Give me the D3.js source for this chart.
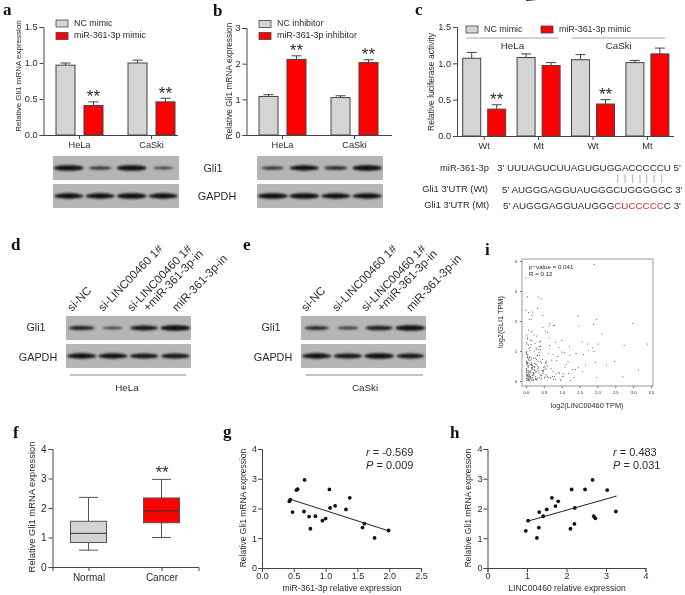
<!DOCTYPE html>
<html>
<head>
<meta charset="utf-8">
<script src="https://cdn.jsdelivr.net/npm/d3@7"></script>
<style>
html, body { margin: 0; padding: 0; background: #fff; }
svg { display: block; font-family: "Liberation Sans", Arial, sans-serif; filter: blur(0.3px); }
svg text { fill: #2b2b2b; }
.panel-letter { font-family: "Liberation Serif", serif; font-weight: bold; font-size: 17px; fill: #111; }
</style>
</head>
<body>
<svg id="chart" width="685" height="595"></svg>
<script>
// panel a
const aGroups = ["HeLa", "CaSki"]
const aSeries = ["NC mimic", "miR-361-3p mimic"]
const aValues = [[0.97, 0.41], [1.0, 0.46]]
const aErrors = [[0.03, 0.05], [0.04, 0.05]]

// panel b
const bGroups = ["HeLa", "CaSki"]
const bSeries = ["NC inhibitor", "miR-361-3p inhibitor"]
const bValues = [[1.08, 2.12], [1.05, 2.03]]
const bErrors = [[0.05, 0.1], [0.05, 0.08]]

// panel c
const cGroups = ["HeLa Wt", "HeLa Mt", "CaSki Wt", "CaSki Mt"]
const cSeries = ["NC mimic", "miR-361-3p mimic"]
const cValues = [[1.07, 0.37], [1.08, 0.97], [1.05, 0.44], [1.01, 1.13]]
const cErrors = [[0.08, 0.06], [0.05, 0.04], [0.07, 0.06], [0.03, 0.08]]

// blots: band strength per lane
const blotAGli1 = [1, 0.55, 1, 0.42]
const blotAGapdh = [0.95, 0.95, 1, 0.95]
const blotBGli1 = [0.55, 0.95, 0.6, 1]
const blotBGapdh = [1, 1, 0.95, 0.95]
const blotDGli1 = [0.75, 0.4, 0.85, 1]
const blotDGapdh = [0.95, 0.95, 0.9, 0.9]
const blotEGli1 = [0.65, 0.45, 0.8, 1]
const blotEGapdh = [0.95, 0.9, 1, 0.85]
const blotLanes = ["1", "2", "3", "4"]
const deLabels = ["si-NC", "si-LINC00460 1#", "si-LINC00460 1#", "+miR-361-3p-in", "miR-361-3p-in"]

// panel f
const fGroups = ["Normal", "Cancer"]
const fLow = [0.57, 1.0]
const fQ1 = [0.83, 1.5]
const fMedian = [1.14, 1.9]
const fQ3 = [1.55, 2.34]
const fHigh = [2.36, 2.97]

// panel g
const gX = [0.43, 0.445, 0.48, 0.54, 0.56, 0.67, 0.66, 0.74, 0.76, 0.84, 0.95, 1.0, 1.06, 1.07, 1.15, 1.32, 1.38, 1.58, 1.61, 1.77, 1.99]
const gY = [2.24, 2.3, 1.88, 2.62, 2.65, 2.96, 1.9, 1.73, 1.32, 1.74, 1.59, 1.66, 2.64, 2.02, 2.09, 1.97, 2.36, 1.36, 1.49, 1.01, 1.26]
const gLineX = [0.43, 1.99]
const gLineY = [2.32, 1.25]

// panel h
const hX = [0.97, 1.03, 1.25, 1.3, 1.31, 1.41, 1.5, 1.63, 1.72, 1.79, 2.1, 2.13, 2.2, 2.21, 2.47, 2.66, 2.69, 2.73, 3.03, 3.25]
const hY = [1.25, 1.59, 1.01, 1.36, 1.88, 1.74, 1.97, 2.36, 2.08, 2.24, 1.32, 2.64, 1.48, 2.02, 2.64, 2.96, 1.74, 1.67, 2.62, 1.9]
const hLineX = [0.98, 3.27]
const hLineY = [1.56, 2.42]

// panel i, sparse points
const iX = [1.91, 0, 0.04, 0.35, 0.42, 0.32, 0, 0.07, 0.19, 0.17, 0.47, 0.09, 0.15, 1.45, 1.98, 2.99, 1.89, 1.48, 0.67, 0.65, 0.77, 0.81, 0.47, 0.54, 0.6, 2.13, 0.07, 0.16, 0.02, 0.22, 0.3, 1.57, 1.72, 2.02, 2.75, 3.4, 1.0, 0.82, 1.22, 1.86, 1.76, 1.9, 1.61, 1.4, 1.07, 1.23, 2.48, 2.25, 1.94, 1.67, 1.47, 1.38, 1.59, 1.98, 1.35, 2.71, 3.15, 1.19, 0.91, 1.02,
  // lower left cloud
  0.01, 0.03, 0.02, 0.05, 0.01, 0.08, 0.04, 0.02, 0.06, 0.1, 0.03, 0.12, 0.07, 0.01, 0.14, 0.09, 0.05, 0.16, 0.02, 0.11, 0.18, 0.06, 0.13, 0.03, 0.2, 0.08, 0.15, 0.04, 0.23, 0.1, 0.17, 0.01, 0.26, 0.12, 0.07, 0.21, 0.02, 0.29, 0.14, 0.05, 0.19, 0.32, 0.09, 0.24, 0.03, 0.35, 0.16, 0.11, 0.27, 0.06, 0.38, 0.18, 0.01, 0.3, 0.13, 0.41, 0.08, 0.22, 0.33, 0.04, 0.44, 0.15, 0.25, 0.1, 0.36, 0.47, 0.02, 0.2, 0.28, 0.5, 0.07, 0.39, 0.17, 0.53, 0.12, 0.31, 0.03, 0.56, 0.42, 0.23, 0.06, 0.6, 0.34, 0.14, 0.45, 0.64, 0.09, 0.26, 0.01, 0.68, 0.37, 0.19, 0.48, 0.72, 0.04, 0.29, 0.76, 0.11, 0.51, 0.4, 0.8, 0.21, 0.02, 0.84, 0.55, 0.32, 0.88, 0.07, 0.43, 0.92, 0.16, 0.58, 0.96, 0.24, 1.0, 0.35, 0.62, 0.05, 1.04, 0.46, 0.13, 1.09, 0.28, 0.66, 1.13, 0.01, 0.38, 1.18, 0.52, 0.7, 0.2, 1.24, 0.08, 0.74, 1.3, 0.41, 0.56, 0.03, 0.78, 0.18, 0.49, 0.86, 0.1, 0.3, 0.94, 0.6, 0.06, 0.44, 1.06, 0.25, 0.02, 0.69, 0.36, 0.15, 0.82, 0.54, 0.04, 0.27, 0.98, 0.47, 0.12, 0.33, 0.65, 0.08, 0.22, 0.4, 0.01, 0.58, 0.17, 0.3, 0.05, 0.75, 0.11, 0.26, 0.03, 0.5, 0.19, 0.07, 0.34, 0.14, 0.02, 0.24, 0.09, 0.42, 0.05, 0.16, 0.01, 0.28, 0.12, 0.04, 0.21, 0.08, 0.37, 0.02, 0.13, 0.06, 0.18, 0.1, 0.03, 0.25, 0.07, 0.01, 0.15, 0.05, 0.11, 0.02, 0.2, 0.04, 0.09, 0.01, 0.13, 0.06, 0.03, 0.17, 0.08, 0.02, 0.05, 0.1, 0.01, 0.04]
const iY = [3.88, 3.43, 2.81, 2.8, 2.73, 2.42, 2.36, 2.28, 2.3, 2.19, 2.19, 2.06, 2.06, 2.17, 2.06, 1.92, 1.88, 1.83, 1.92, 1.84, 1.86, 1.85, 1.78, 1.67, 1.62, 1.57, 1.7, 1.64, 1.53, 1.53, 1.5, 1.31, 1.23, 1.23, 1.19, 1.23, 1.36, 1.29, 1.14, 1.11, 1.03, 0.98, 0.89, 0.92, 0.95, 0.86, 0.66, 0.53, 0.62, 0.53, 0.44, 0.39, 0.31, 0.12, 0.12, 0.14, 0.37, 0.25, 0.29, 0.14,
  0.42, 1.23, 0.08, 0.62, 0.95, 0.21, 1.4, 0.33, 0.05, 0.78, 0.15, 1.12, 0.5, 1.28, 0.27, 0.01, 0.88, 0.44, 0.59, 1.02, 0.12, 0.36, 0.7, 1.47, 0.18, 1.08, 0.03, 0.83, 0.48, 0.3, 1.35, 0.66, 0.09, 0.56, 1.2, 0.24, 0.98, 0.72, 0.11, 1.42, 0.38, 0.86, 0.02, 0.46, 0.19, 1.05, 0.6, 0.29, 0.14, 0.76, 1.3, 0.52, 0.91, 0.06, 0.34, 1.16, 0.68, 0.23, 0.41, 0.8, 0.1, 0.55, 1.26, 0.17, 0.95, 0.31, 0.63, 0.04, 1.1, 0.39, 0.73, 0.22, 0.5, 0.13, 1.37, 0.84, 0.28, 0.58, 0.07, 1.0, 0.45, 0.16, 0.66, 1.22, 0.35, 0.92, 0.2, 0.77, 0.54, 0.11, 1.15, 0.43, 0.26, 0.7, 0.6, 0.03, 0.88, 0.33, 0.49, 1.04, 0.15, 0.75, 0.4, 0.24, 0.62, 0.09, 0.82, 0.3, 0.18, 1.12, 0.52, 0.67, 0.05, 0.36, 0.97, 0.44, 0.12, 0.58, 0.25, 0.72, 0.08, 0.47, 0.32, 1.18, 0.56, 0.19, 0.86, 0.64, 0.1, 0.41, 0.28, 0.02, 0.53, 0.15, 0.38, 1.33, 0.21, 0.79, 0.06, 0.46, 0.34, 0.69, 0.13, 1.07, 0.26, 0.5, 0.04, 0.61, 0.17, 0.37, 0.9, 0.11, 0.29, 0.74, 0.07, 0.43, 0.2, 0.57, 0.01, 0.33, 0.15, 0.48, 1.44, 0.09, 0.24, 0.65, 0.03, 0.39, 0.18, 0.55, 0.12, 0.31, 0.81, 0.06, 0.22, 0.45, 0.02, 0.14, 0.36, 0.1, 0.27, 0.59, 0.05, 0.19, 0.01, 0.41, 0.08, 0.3, 0.16, 0.51, 0.04, 0.23, 0.12, 0.35]
const iXTicks = [0, 0.5, 1, 1.5, 2, 2.5, 3, 3.5]
const iYTicks = [0, 1, 2, 3, 4]

const svg = d3.select("#chart")
const barGray = "#d4d4d4"
const barRed = "#ff0000"
const axisColor = "#444"

svg.append("defs").append("filter")
	.attr("id", "bandBlur")
	.attr("x", "-20%").attr("y", "-100%").attr("width", "140%").attr("height", "300%")
	.append("feGaussianBlur").attr("stdDeviation", 0.9)

svg.append("defs").append("filter")
	.attr("id", "soft")
	.append("feGaussianBlur").attr("stdDeviation", 0.3)

// Panel letters
const panelLetters = [["a", 3, 15], ["b", 213, 16], ["c", 415, 15], ["d", 11, 250], ["e", 243, 250], ["f", 13, 438], ["g", 223, 437], ["h", 450, 438], ["i", 485, 255]]
svg.selectAll(".panel-letter").data(panelLetters).join("text")
	.attr("class", "panel-letter")
	.attr("x", (d) => d[1])
	.attr("y", (d) => d[2])
	.text((d) => d[0])

function styleAxis(g, size) {
	g.selectAll("path, line").attr("stroke", axisColor).attr("stroke-width", 1)
	g.selectAll("text").style("font-size", size + "px").attr("fill", "#2b2b2b")
	g.attr("font-family", null)
}

function drawBarPanel(cfg) {
	const g = svg.append("g").attr("class", cfg.name)
	const y = d3.scaleLinear().domain(cfg.yDomain).range([cfg.y0, cfg.y1])
	const x = d3.scaleBand().domain(cfg.groups).range([cfg.x0, cfg.x1])
	const inner = d3.scaleBand().domain(cfg.series)
		.range([-cfg.span / 2, cfg.span / 2]).paddingInner(cfg.pad)
	const center = (grp) => x(grp) + x.bandwidth() / 2

	cfg.groups.forEach((grp, i) => {
		cfg.series.forEach((s, j) => {
			const val = cfg.values[i][j]
			const err = cfg.errors[i][j]
			const left = center(grp) + inner(s)
			const mid = left + inner.bandwidth() / 2
			// error bar first so the bar covers its lower end
			g.append("line").attr("x1", mid).attr("x2", mid)
				.attr("y1", y(val)).attr("y2", y(val + err))
				.attr("stroke", "#444").attr("stroke-width", 1)
			g.append("line").attr("x1", mid - 5).attr("x2", mid + 5)
				.attr("y1", y(val + err)).attr("y2", y(val + err))
				.attr("stroke", "#444").attr("stroke-width", 1)
			g.append("rect").attr("x", left).attr("y", y(val))
				.attr("width", inner.bandwidth()).attr("height", y(0) - y(val))
				.attr("fill", j === 0 ? barGray : barRed)
				.attr("stroke", "#444").attr("stroke-width", 1)
		})
	})

	const yAxis = g.append("g").attr("transform", `translate(${cfg.x0},0)`)
		.call(d3.axisLeft(y).tickValues(cfg.yTicks).tickFormat(cfg.yFormat).tickSize(4).tickPadding(2))
	styleAxis(yAxis, 9.2)

	const xAxis = g.append("g").attr("transform", `translate(0,${cfg.y0})`)
		.call(d3.axisBottom(x).tickFormat(cfg.xFormat || ((d) => d)).tickSize(4).tickPadding(2))
	xAxis.select(".domain").attr("d", `M${cfg.x0},0.5H${cfg.axisEnd}`)
	styleAxis(xAxis, 9.2)

	g.append("text")
		.attr("transform", `translate(${cfg.labelX},${cfg.labelY}) rotate(-90)`)
		.attr("text-anchor", "middle").attr("dominant-baseline", "middle")
		.style("font-size", cfg.labelSize + "px")
		.text(cfg.label)

	// legend
	cfg.series.forEach((s, j) => {
		const lx = cfg.legendX[j]
		const ly = cfg.legendY[j]
		g.append("rect").attr("x", lx).attr("y", ly - 3.5).attr("width", 12).attr("height", 7)
			.attr("fill", j === 0 ? barGray : barRed).attr("stroke", "#444").attr("stroke-width", 0.8)
		g.append("text").attr("x", lx + 18).attr("y", ly)
			.attr("dominant-baseline", "middle").style("font-size", "8.9px").text(s)
	})

	// significance stars
	cfg.stars.forEach((st) => {
		const left = center(cfg.groups[st[0]]) + inner(cfg.series[st[1]])
		const val = cfg.values[st[0]][st[1]] + cfg.errors[st[0]][st[1]]
		g.append("text").attr("x", left + inner.bandwidth() / 2)
			.attr("y", y(val) + 0.5)
			.attr("text-anchor", "middle")
			.style("font-size", "17px").text("**")
	})
	return { g, x, y, center }
}

drawBarPanel({
	name: "panel-a", groups: aGroups, series: aSeries, values: aValues, errors: aErrors,
	yDomain: [0, 1.5], yTicks: [0, 0.5, 1, 1.5], yFormat: d3.format(".1f"),
	x0: 43.5, x1: 187.5, axisEnd: 178, y0: 135, y1: 27, span: 47, pad: 0.32,
	label: "Relative Gli1 mRNA expression", labelX: 19, labelY: 76, labelSize: 8,
	legendX: [56, 56], legendY: [23.5, 36], stars: [[0, 1], [1, 1]],
})

drawBarPanel({
	name: "panel-b", groups: bGroups, series: bSeries, values: bValues, errors: bErrors,
	yDomain: [0, 3], yTicks: [0, 1, 2, 3], yFormat: d3.format("d"),
	x0: 246.5, x1: 390.5, axisEnd: 392, y0: 135, y1: 28, span: 47, pad: 0.32,
	label: "Relative Gli1 mRNA expression", labelX: 230, labelY: 81, labelSize: 8.4,
	legendX: [259, 259], legendY: [24, 36], stars: [[0, 1], [1, 1]],
})

const panelC = drawBarPanel({
	name: "panel-c", groups: cGroups, series: cSeries, values: cValues, errors: cErrors,
	yDomain: [0, 1.5], yTicks: [0, 0.5, 1, 1.5], yFormat: d3.format(".1f"),
	x0: 457, x1: 674.6, axisEnd: 674, y0: 136, y1: 27, span: 43, pad: 0.28,
	xFormat: (d) => d.split(" ")[1],
	label: "Relative luciferase activity", labelX: 432, labelY: 82, labelSize: 8.5,
	legendX: [466, 541], legendY: [29.5, 29.5], stars: [[0, 1], [2, 1]],
})

// HeLa / CaSki brackets of panel c
const cBrackets = [["HeLa", "HeLa Wt", "HeLa Mt", 18, 20], ["CaSki", "CaSki Wt", "CaSki Mt", 21, 18]]
cBrackets.forEach((b) => {
	const x1 = panelC.center(b[1]) - b[3]
	const x2 = panelC.center(b[2]) + b[4]
	panelC.g.append("line").attr("x1", x1).attr("x2", x2).attr("y1", 38).attr("y2", 38)
		.attr("stroke", "#aaa").attr("stroke-width", 1.2)
	panelC.g.append("text").attr("x", (x1 + x2) / 2).attr("y", 46)
		.attr("text-anchor", "middle").attr("dominant-baseline", "middle")
		.style("font-size", "9.8px").text(b[0])
})

// Sequence alignment in panel c
const seqLabels = [["miR-361-3p", 489, 168.5], ["Gli1 3'UTR (Wt)", 488, 190], ["Gli1 3'UTR (Mt)", 489, 206]]
svg.selectAll(".seq-label").data(seqLabels).join("text")
	.attr("class", "seq-label")
	.attr("x", (d) => d[1]).attr("y", (d) => d[2])
	.attr("text-anchor", "end").attr("dominant-baseline", "middle")
	.style("font-size", "9.4px")
	.text((d) => d[0])
svg.append("text").attr("x", 497).attr("y", 168.5).attr("dominant-baseline", "middle")
	.style("font-size", "9.8px").text("3' UUUAGUCUUAGUGUGGACCCCCU 5'")
svg.append("text").attr("x", 502).attr("y", 190).attr("dominant-baseline", "middle")
	.style("font-size", "9.8px").text("5' AUGGGAGGUAUGGGCUGGGGGC 3'")
const mtText = svg.append("text").attr("x", 503).attr("y", 206).attr("dominant-baseline", "middle")
	.style("font-size", "9.8px")
mtText.append("tspan").text("5' AUGGGAGGUAUGGG")
mtText.append("tspan").style("fill", "#e8232a").text("CUCCCCC")
mtText.append("tspan").text("C 3'")
const pairLines = [617.7, 625, 632.7, 640, 646.7, 654, 661.7]
svg.selectAll(".pair").data(pairLines).join("line")
	.attr("class", "pair")
	.attr("x1", (d) => d).attr("x2", (d) => d)
	.attr("y1", 174.5).attr("y2", 183)
	.attr("stroke", "#999").attr("stroke-width", 0.8)

// Western blot strip
function drawBlot(x0, x1, yTop, strengths) {
	const h = 24
	const g = svg.append("g")
	g.append("rect").attr("x", x0).attr("y", yTop).attr("width", x1 - x0).attr("height", h)
		.attr("fill", "#b5b5b5")
	const lane = d3.scalePoint().domain(blotLanes).range([x0, x1]).padding(0.5)
	const wScale = d3.scaleLinear().domain([0, 1]).range([12, 28])
	const hScale = d3.scaleLinear().domain([0, 1]).range([1.5, 5.5])
	const band = g.append("g").attr("filter", "url(#bandBlur)")
	blotLanes.forEach((l, i) => {
		const s = strengths[i]
		band.append("ellipse")
			.attr("cx", lane(l)).attr("cy", yTop + h / 2)
			.attr("rx", wScale(s) / 2 + 1).attr("ry", hScale(s) / 2)
			.attr("fill", d3.interpolateRgb("#666", "#0b0b0b")(s))
	})
}

function drawSideLabels(gliX, gapdhX, gliY, gapdhY) {
	svg.append("text").attr("x", gliX).attr("y", gliY).attr("text-anchor", "middle")
		.attr("dominant-baseline", "middle").style("font-size", "10.8px").text("Gli1")
	svg.append("text").attr("x", gapdhX).attr("y", gapdhY).attr("text-anchor", "middle")
		.attr("dominant-baseline", "middle").style("font-size", "10.8px").text("GAPDH")
}

drawBlot(53, 179, 156, blotAGli1)
drawBlot(53, 179, 184, blotAGapdh)
drawBlot(257, 383, 156, blotBGli1)
drawBlot(257, 383, 184, blotBGapdh)
drawSideLabels(213, 217, 169, 197)

drawBlot(66, 191, 316, blotDGli1)
drawBlot(66, 191, 344, blotDGapdh)
drawSideLabels(36, 38, 328, 358)

drawBlot(301, 426, 316, blotEGli1)
drawBlot(301, 426, 344, blotEGapdh)
drawSideLabels(271, 273, 328, 358)

// rotated lane labels in d and e
function drawLaneLabels(dx, caption, ruleX0, ruleX1, capX) {
	const starts = [[72, 312], [103, 312], [132, 312], [148, 312], [177, 312]]
	deLabels.forEach((t, i) => {
		svg.append("text")
			.attr("transform", `translate(${starts[i][0] + dx},${starts[i][1]}) rotate(-46)`)
			.style("font-size", "11.6px").text(t)
	})
	svg.append("line").attr("x1", ruleX0).attr("x2", ruleX1).attr("y1", 375).attr("y2", 375)
		.attr("stroke", "#888").attr("stroke-width", 1)
	svg.append("text").attr("x", capX).attr("y", 388).attr("text-anchor", "middle")
		.attr("dominant-baseline", "middle").style("font-size", "9.8px").text(caption)
}
drawLaneLabels(0, "HeLa", 70, 186, 127)
drawLaneLabels(234, "CaSki", 306, 423, 365)

// Panel i
const iG = svg.append("g").attr("class", "panel-i").attr("filter", "url(#soft)")
const iXS = d3.scaleLinear().domain([0, 3.5]).range([526, 651])
const iYS = d3.scaleLinear().domain([0, 4]).range([381, 261])
iG.append("rect").attr("x", 522).attr("y", 259).attr("width", 131).attr("height", 127)
	.attr("fill", "none").attr("stroke", "#999").attr("stroke-width", 1)
iG.selectAll("circle").data(iX).join("circle")
	.attr("cx", (d) => iXS(d))
	.attr("cy", (d, i) => iYS(iY[i]))
	.attr("r", 0.5).attr("fill", "#333")
const iAxisX = iG.append("g").attr("transform", "translate(0,386)")
	.call(d3.axisBottom(iXS).tickValues(iXTicks).tickFormat(d3.format(".1f")).tickSize(2).tickPadding(3))
iAxisX.select(".domain").remove()
iAxisX.selectAll("line").attr("stroke", "#777")
iAxisX.selectAll("text").style("font-size", "4.2px").attr("fill", "#444")
const iAxisY = iG.append("g").attr("transform", "translate(522,0)")
	.call(d3.axisLeft(iYS).tickValues(iYTicks).tickFormat(d3.format("d")).tickSize(2).tickPadding(3))
iAxisY.select(".domain").remove()
iAxisY.selectAll("line").attr("stroke", "#777")
iAxisY.selectAll("text").style("font-size", "4.2px").attr("fill", "#444")
iG.append("text").attr("x", 529).attr("y", 267).attr("dominant-baseline", "middle")
	.style("font-size", "6.2px").text("p\u2212value = 0.041")
iG.append("text").attr("x", 529).attr("y", 274).attr("dominant-baseline", "middle")
	.style("font-size", "6.2px").text("R = 0.12")
iG.append("text").attr("x", 587).attr("y", 406).attr("text-anchor", "middle")
	.attr("dominant-baseline", "middle").style("font-size", "7.3px").text("log2(LINC00460 TPM)")
iG.append("text").attr("transform", "translate(501,322) rotate(-90)").attr("text-anchor", "middle")
	.attr("dominant-baseline", "middle").style("font-size", "7.3px").text("log2(GLI1 TPM)")

// Panel f: box plot
const fG = svg.append("g").attr("class", "panel-f")
const fX = d3.scaleBand().domain(fGroups).range([52.5, 198.5])
const fY = d3.scaleLinear().domain([0, 4]).range([567, 449])
fGroups.forEach((grp, i) => {
	const mid = fX(grp) + fX.bandwidth() / 2 - 0.5
	const half = 18
	fG.append("line").attr("x1", mid).attr("x2", mid).attr("y1", fY(fLow[i])).attr("y2", fY(fHigh[i]))
		.attr("stroke", "#555").attr("stroke-width", 1)
	;[fLow[i], fHigh[i]].forEach((v) => {
		fG.append("line").attr("x1", mid - 9.5).attr("x2", mid + 9.5).attr("y1", fY(v)).attr("y2", fY(v))
			.attr("stroke", "#555").attr("stroke-width", 1)
	})
	fG.append("rect").attr("x", mid - half).attr("y", fY(fQ3[i]))
		.attr("width", half * 2).attr("height", fY(fQ1[i]) - fY(fQ3[i]))
		.attr("fill", i === 0 ? barGray : barRed).attr("stroke", "#555").attr("stroke-width", 1)
	fG.append("line").attr("x1", mid - half).attr("x2", mid + half).attr("y1", fY(fMedian[i])).attr("y2", fY(fMedian[i]))
		.attr("stroke", "#333").attr("stroke-width", 1)
})
styleAxis(fG.append("g").attr("transform", "translate(52.5,0)")
	.call(d3.axisLeft(fY).ticks(4).tickFormat(d3.format("d")).tickSize(4).tickPadding(2)), 10)
const fAxisX = fG.append("g").attr("transform", "translate(0,567)")
	.call(d3.axisBottom(fX).tickSize(4).tickPadding(3))
styleAxis(fAxisX, 10)
fG.append("text").attr("transform", "translate(33,507) rotate(-90)").attr("text-anchor", "middle")
	.attr("dominant-baseline", "middle").style("font-size", "9.4px").text("Relative Gli1 mRNA expression")
fG.append("text").attr("x", 162).attr("y", fY(fHigh[1]) - 1).attr("text-anchor", "middle")
	.style("font-size", "17px").text("**")

// Panels g and h: scatter with regression line
function drawCorrelation(cfg) {
	const g = svg.append("g").attr("class", cfg.name)
	const x = d3.scaleLinear().domain(cfg.xDomain).range([cfg.x0, cfg.x1])
	const y = d3.scaleLinear().domain([0, 4]).range([568, 449])
	g.selectAll("circle").data(cfg.xs).join("circle")
		.attr("cx", (d) => x(d)).attr("cy", (d, i) => y(cfg.ys[i]))
		.attr("r", 1.9).attr("fill", "#111")
	const line = d3.line().x((d) => x(d[0])).y((d) => y(d[1]))
	g.append("path").attr("d", line(d3.zip(cfg.lineX, cfg.lineY)))
		.attr("fill", "none").attr("stroke", "#222").attr("stroke-width", 1)
	styleAxis(g.append("g").attr("transform", `translate(${cfg.x0},0)`)
		.call(d3.axisLeft(y).ticks(4).tickFormat(d3.format("d")).tickSize(4).tickPadding(1)), 9)
	styleAxis(g.append("g").attr("transform", "translate(0,568)")
		.call(d3.axisBottom(x).tickValues(cfg.xTicks).tickFormat(d3.format(cfg.xFmt)).tickSize(4).tickPadding(1)), 9)
	g.append("text").attr("transform", `translate(${cfg.labelX},508) rotate(-90)`).attr("text-anchor", "middle")
		.attr("dominant-baseline", "middle").style("font-size", "8.5px").text("Relative Gli1 mRNA expression")
	g.append("text").attr("x", cfg.captionX).attr("y", 589).attr("text-anchor", "middle")
		.attr("dominant-baseline", "middle").style("font-size", "8.6px").text(cfg.caption)
	const r = g.append("text").attr("x", cfg.noteX).attr("y", 453).attr("dominant-baseline", "middle").style("font-size", "11px")
	r.append("tspan").style("font-style", "italic").text("r")
	r.append("tspan").text(" = " + cfg.r)
	const p = g.append("text").attr("x", cfg.noteX).attr("y", 466).attr("dominant-baseline", "middle").style("font-size", "11px")
	p.append("tspan").style("font-style", "italic").text("P")
	p.append("tspan").text(" = " + cfg.p)
}

drawCorrelation({
	name: "panel-g", xs: gX, ys: gY, lineX: gLineX, lineY: gLineY,
	xDomain: [0, 2.5], xTicks: [0, 0.5, 1, 1.5, 2, 2.5], xFmt: ".1f",
	x0: 262, x1: 421, labelX: 244, captionX: 342, caption: "miR-361-3p relative expression",
	noteX: 366, r: "-0.569", p: "0.009",
})
drawCorrelation({
	name: "panel-h", xs: hX, ys: hY, lineX: hLineX, lineY: hLineY,
	xDomain: [0, 4], xTicks: [0, 1, 2, 3, 4], xFmt: "d",
	x0: 487.5, x1: 645.5, labelX: 469, captionX: 567, caption: "LINC00460 relative expression",
	noteX: 613, r: "0.483", p: "0.031",
})
</script>
</body>
</html>
